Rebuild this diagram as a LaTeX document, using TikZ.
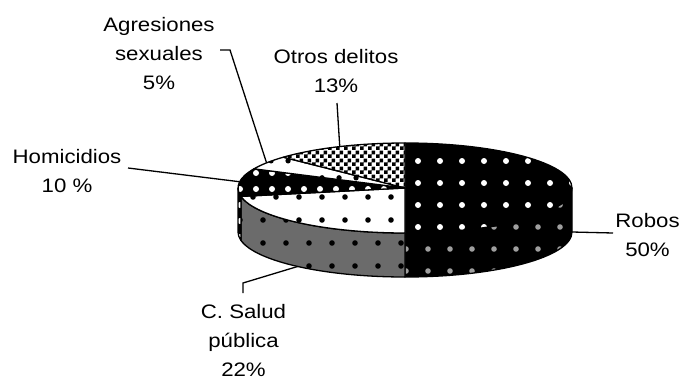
\documentclass[tikz,border=0pt]{standalone}
\usepackage{fontspec}
\setmainfont{Liberation Sans}[FakeStretch=1.14]
\usepackage{tikz}
\usetikzlibrary{patterns, patterns.meta}

\pgfdeclarepatternformonly{finecheck}{\pgfpointorigin}{\pgfqpoint{8pt}{8pt}}{\pgfqpoint{8pt}{8pt}}{
  \pgfpathrectangle{\pgfpointorigin}{\pgfqpoint{4pt}{4pt}}
  \pgfpathrectangle{\pgfqpoint{4pt}{4pt}}{\pgfqpoint{4pt}{4pt}}
  \pgfusepath{fill}}

\tikzset{
  slice/.style={draw=black, line width=1.3pt, line join=round},
  robos/.style={slice, preaction={fill=black}, pattern={Dots[distance=22pt, radius=3pt]}, pattern color=white},
  robosside/.style={slice, preaction={fill=black}, pattern={Dots[distance=22pt, radius=2.8pt, xshift=10pt]}, pattern color=gray!75},
  salud/.style={slice, preaction={fill=white}, pattern={Dots[distance=23pt, radius=2.8pt]}},
  saludside/.style={slice, preaction={fill=black!58}, pattern={Dots[distance=23pt, radius=2.8pt, xshift=10pt]}},
  homicidios/.style={slice, preaction={fill=black}, pattern={Dots[distance=16pt, radius=3pt]}, pattern color=white},
  agresiones/.style={slice, preaction={fill=white}, pattern={Dots[distance=17pt, radius=2.8pt]}},
  otros/.style={slice, preaction={fill=white}, pattern=finecheck},
  lbl/.style={align=center, inner sep=0pt, anchor=north, font=\fontsize{19.5}{29}\selectfont},
  leader/.style={draw=black, line width=1.3pt}
}

\begin{document}
\begin{tikzpicture}[x=1pt, y=1pt]
    \useasboundingbox (0,0) rectangle (684,381);
    \coordinate (C) at (405,193);

    % side walls
    \path[robosside] (C) ++(270:167 and 45) arc[start angle=270, end angle=360, x radius=167, y radius=45]
        -- ++(0,-44) arc[start angle=360, end angle=270, x radius=167, y radius=45] -- cycle;
    \path[saludside] (C) ++(190.8:167 and 45) arc[start angle=190.8, end angle=270, x radius=167, y radius=45]
        -- ++(0,-44) arc[start angle=270, end angle=190.8, x radius=167, y radius=45] -- cycle;
    \path[homicidios] (C) ++(180:167 and 45) arc[start angle=180, end angle=190.8, x radius=167, y radius=45]
        -- ++(0,-44) arc[start angle=190.8, end angle=180, x radius=167, y radius=45] -- cycle;

    % top faces
    \path[robos] (C) -- ++(90:167 and 45) arc[start angle=90, end angle=-90, x radius=167, y radius=45] -- cycle;
    \path[salud] (C) -- ++(190.8:167 and 45) arc[start angle=190.8, end angle=270, x radius=167, y radius=45] -- cycle;
    \path[homicidios] (C) -- ++(154.8:167 and 45) arc[start angle=154.8, end angle=190.8, x radius=167, y radius=45] -- cycle;
    \path[agresiones] (C) -- ++(136.8:167 and 45) arc[start angle=136.8, end angle=154.8, x radius=167, y radius=45] -- cycle;
    \path[otros] (C) -- ++(90:167 and 45) arc[start angle=90, end angle=136.8, x radius=167, y radius=45] -- cycle;

    % points on the pie
    \path (C) ++(0:167 and 45) ++(0,-44) coordinate (pR);
    \path (C) ++(230:167 and 45) ++(0,-44) coordinate (pS);
    \path (C) ++(172:167 and 45) coordinate (pH);
    \path (C) ++(146:167 and 45) coordinate (pA);
    \path (C) ++(113:167 and 45) coordinate (pO);

    % labels
    \node[lbl] (robos) at (647.5,168) {Robos\\50\%};
    \node[lbl] (salud) at (243.5,77) {C. Salud\\pública\\22\%};
    \node[lbl] (homicidios) at (67,232) {Homicidios\\10 \%};
    \node[lbl] (agresiones) at (159,364) {Agresiones\\sexuales\\5\%};
    \node[lbl] (otros) at (336,332) {Otros delitos\\13\%};

    \coordinate (eR) at (613,148);
    \coordinate (kS) at (243,98);
    \coordinate (eS) at (243,88);
    \coordinate (eH) at (128,213);
    \coordinate (kA) at (230,331);
    \coordinate (eA) at (220,331);
    \coordinate (eO) at (337,278);

    % leader lines
    \draw[leader] (pR) -- (eR);
    \draw[leader] (pS) -- (kS) -- (eS);
    \draw[leader] (pH) -- (eH);
    \draw[leader] (pA) -- (kA) -- (eA);
    \draw[leader] (pO) -- (eO);
\end{tikzpicture}
\end{document}
